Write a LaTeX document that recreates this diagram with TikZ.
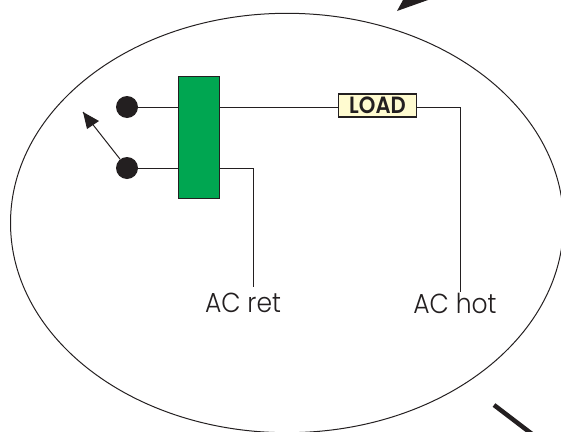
\documentclass[tikz,border=0pt]{standalone}
\usepackage{graphicx}
\usepackage{fontspec}
\setmainfont{Poppins}
\newfontfamily\lblfont{Poppins Light}
\newfontfamily\loadfont{Poppins SemiBold}
\definecolor{relaygreen}{HTML}{00A651}
\definecolor{loadfill}{HTML}{FFFBD0}
\definecolor{ink}{HTML}{231F20}
\newcommand{\lbltext}[1]{\scalebox{.91}[1]{#1}}
\begin{document}
\begin{tikzpicture}[x=1pt,y=-1pt,
  wire/.style={draw=ink,line width=1pt},
  contact/.style={circle,fill=ink,inner sep=0pt,minimum size=22pt},
  relaybox/.style={draw=ink,fill=relaygreen,line width=1pt,minimum width=41pt,minimum height=122pt,inner sep=0pt},
  loadbox/.style={draw=ink,fill=loadfill,line width=1.1pt,minimum width=78pt,minimum height=23pt,inner sep=0pt,text height=16.5pt,text depth=0pt,text=ink,font=\loadfont\fontsize{23.5}{23.5}\selectfont},
  lbl/.style={font=\lblfont\fontsize{27.5}{27.5}\selectfont,text=ink,inner sep=0pt,anchor=base}]
\useasboundingbox (0,0) rectangle (561,431);
\begin{scope}
\clip (0,0) rectangle (561,431);
\draw[ink,line width=1pt] (287,223) ellipse [x radius=276.5,y radius=209.7];
\fill[ink] (397,11) -- (428,0) -- (403,0) -- cycle;
\draw[ink,line width=4.5pt] (494,405) -- (532,434);
\end{scope}
\node[contact] (c1) at (127,107) {};
\node[contact] (c2) at (127,168) {};
\node[relaybox] (r) at (199,137) {};
\node[loadbox] (load) at (377.5,105.5) {\scalebox{.9}[1]{LOAD}};
\coordinate (retc) at (253,168);
\coordinate (rete) at (253,287);
\coordinate (hotc) at (460.5,107);
\coordinate (hote) at (460.5,292);
\coordinate (tip) at (83,112);
\draw[wire] (c1) -- (c1-|r.west);
\draw[wire] (c2) -- (c2-|r.west);
\draw[wire] (c1-|r.east) -- (c1-|load.west);
\draw[wire] (c2-|r.east) -- (retc) -- (rete);
\draw[wire] (c1-|load.east) -- (hotc) -- (hote);
\draw[wire] (c2) -- (tip);
\fill[ink] (tip) -- (99,121) -- (87,129) -- cycle;
\node[lbl] (acret) at (243,312) {\lbltext{AC ret}};
\node[lbl] (achot) at (455,313) {\lbltext{AC hot}};
\end{tikzpicture}
\end{document}
